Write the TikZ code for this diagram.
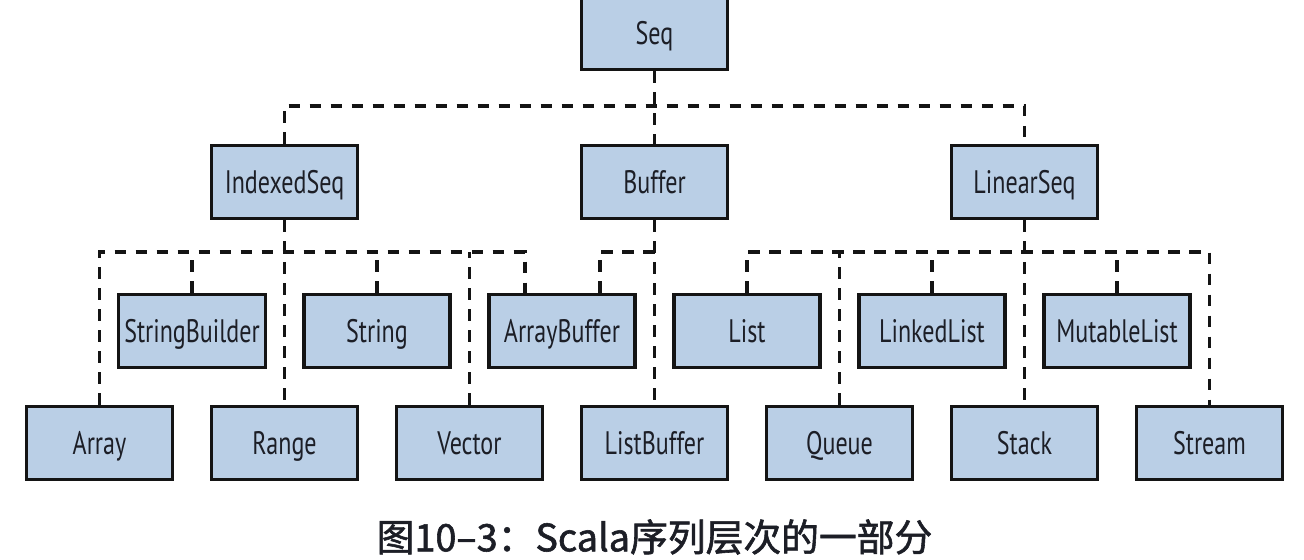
\documentclass[tikz,border=0pt]{standalone}
\usepackage{fontspec}
\usepackage{tikz}
\usetikzlibrary{arrows,shapes,positioning}
\usepackage{xcolor}
\newfontfamily\clsfont{PT Sans}[FakeStretch=0.74]
\newfontfamily\cjk{Noto Sans CJK SC}[FakeBold=1.5]
\definecolor{clsblue}{RGB}{186,207,230}
\definecolor{clsborder}{RGB}{20,20,20}
\definecolor{clstext}{RGB}{28,30,38}
\tikzstyle{cls} = [rectangle, minimum width=2.92cm, minimum height=1.46cm, text centered, text height=13pt, text depth=0pt, draw=clsborder, fill=clsblue, line width=1.8pt, text=clstext, font=\clsfont\fontsize{18.5}{20}\selectfont]
\tikzstyle{link} = [line width=2pt, dash pattern=on 0.23cm off 0.19cm, color=clsborder]

\begin{document}
\begin{tikzpicture}[node distance=3.7cm]
\useasboundingbox (-1.99,-2.34) rectangle (24.09,8.86);
% Bottom row
\node (array) [cls] at (0,0) {Array};
\node (range) [cls, right of=array] {Range};
\node (vector) [cls, right of=range] {Vector};
\node (listbuf) [cls, right of=vector] {ListBuffer};
\node (queue) [cls, right of=listbuf] {Queue};
\node (stack) [cls, right of=queue] {Stack};
\node (stream) [cls, right of=stack] {Stream};

% Middle row
\node (strbuilder) [cls, node distance=2.24cm, above of=array, xshift=1.85cm] {StringBuilder};
\node (string) [cls, right of=strbuilder] {String};
\node (arraybuf) [cls, right of=string] {ArrayBuffer};
\node (list) [cls, right of=arraybuf] {List};
\node (linkedlist) [cls, right of=list] {LinkedList};
\node (mutlist) [cls, right of=linkedlist] {MutableList};

% Upper levels
\node (indexedseq) [cls, node distance=5.22cm, above of=range] {IndexedSeq};
\node (buffer) [cls, node distance=5.22cm, above of=listbuf] {Buffer};
\node (linearseq) [cls, node distance=5.22cm, above of=stack] {LinearSeq};
\node (seq) [cls, node distance=2.98cm, above of=buffer] {Seq};

% Caption
\node (caption) [node distance=1.88cm, below of=listbuf, font=\cjk\fontsize{21.5}{24}\selectfont, text=clstext] {图10–3：Scala序列层次的一部分};

% Links
\coordinate (ibus) at ([yshift=-0.64cm]indexedseq.south);
\coordinate (lbus) at ([yshift=-0.64cm]linearseq.south);
\draw[link] (seq) -- (buffer);
\draw[link] (indexedseq.north) -- ++(0,0.76) -| (linearseq.north);
\draw[link] (array.north) |- (ibus) -| ([xshift=-0.74cm]arraybuf.north);
\draw[link] (indexedseq) -- (range);
\draw[link] (strbuilder.north) -- (strbuilder.north |- ibus);
\draw[link] (string.north) -- (string.north |- ibus);
\draw[link] (vector.north) -- (vector.north |- ibus);
\draw[link] (buffer) -- (listbuf);
\draw[link] ([xshift=0.76cm]arraybuf.north) |- (buffer.south |- ibus);
\draw[link] (list.north) |- (lbus) -| (stream.north);
\draw[link] (linearseq) -- (stack);
\draw[link] (queue.north) -- (queue.north |- lbus);
\draw[link] (linkedlist.north) -- (linkedlist.north |- lbus);
\draw[link] (mutlist.north) -- (mutlist.north |- lbus);
\end{tikzpicture}
\end{document}
